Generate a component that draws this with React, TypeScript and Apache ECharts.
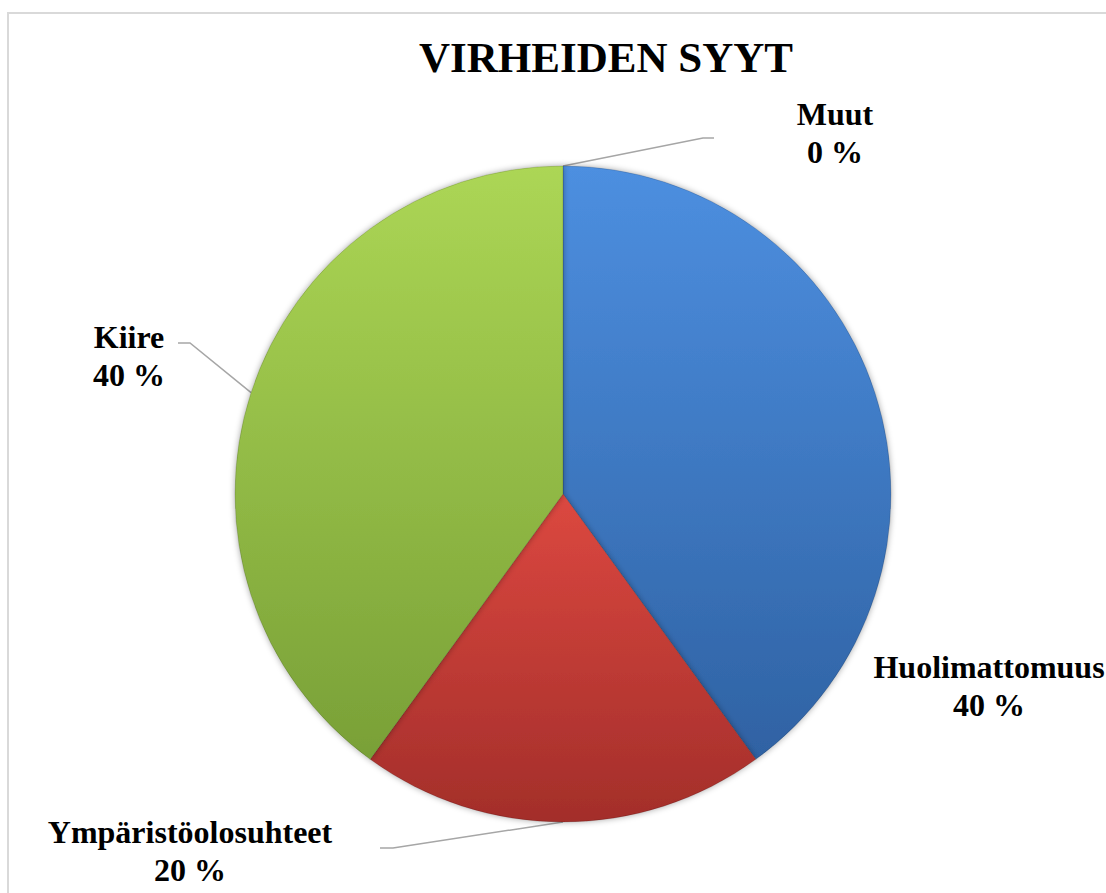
import React, { useEffect, useRef } from "react";
import * as echarts from "echarts";

const categories = ["Huolimattomuus", "Ympäristöolosuhteet", "Kiire", "Muut"];
const values = [40, 20, 40, 0];
const titleText = "VIRHEIDEN SYYT";

const gradients: [string, string][] = [
  ["#4d8fe0", "#2f62a3"],
  ["#dc4840", "#a32e2a"],
  ["#acd655", "#79a037"],
  ["#8064a2", "#5e4a7c"],
];

// label anchor: [centerX, middleY, elbowX, elbowY, endX]
const labelSpots: (number[] | null)[] = [
  [989, 686],
  [190, 851, 393, 848, 380],
  [129, 356, 190, 343, 178],
  [835, 133, 703, 138, 714],
];

export default function App() {
  const ref = useRef<HTMLDivElement>(null);
  useEffect(() => {
    if (!ref.current) return;
    const chart = echarts.init(ref.current, null, { renderer: "svg" });
    const data = categories.map((name, i) => ({
      name,
      value: values[i],
      itemStyle: {
        color: {
          type: "linear",
          x: 0,
          y: 0,
          x2: 0,
          y2: 1,
          colorStops: [
            { offset: 0, color: gradients[i][0] },
            { offset: 1, color: gradients[i][1] },
          ],
        },
      },
      labelLine: { show: i !== 0 },
    }));
    chart.setOption({
      animation: false,
      backgroundColor: "#ffffff",
      title: {
        text: titleText,
        left: 601,
        top: 31,
        textAlign: "center",
        textStyle: {
          fontFamily: "Liberation Serif",
          fontWeight: "bold",
          fontSize: 43,
          color: "#000000",
        },
      },
      graphic: [
        {
          type: "rect",
          shape: { x: 8, y: 13, width: 1110, height: 900 },
          style: { fill: "none", stroke: "#d9d9d9", lineWidth: 2 },
          silent: true,
        },
      ],
      series: [
        {
          type: "pie",
          center: [563, 494],
          radius: 328,
          startAngle: 90,
          clockwise: true,
          percentPrecision: 0,
          avoidLabelOverlap: false,
          itemStyle: {
            shadowBlur: 6,
            shadowColor: "rgba(0,0,0,0.35)",
            borderColor: "rgba(0,0,0,0.15)",
            borderWidth: 1,
          },
          label: {
            show: true,
            position: "outside",
            formatter: "{b}\n{d} %",
            fontFamily: "Liberation Serif",
            fontWeight: "bold",
            fontSize: 32,
            lineHeight: 38,
            color: "#000000",
            align: "center",
          },
          labelLine: {
            show: true,
            lineStyle: { color: "#a6a6a6", width: 1.5 },
          },
          labelLayout: (params: any) => {
            const s = labelSpots[params.dataIndex];
            if (!s) return {};
            const out: any = {
              x: s[0],
              y: s[1],
              align: "center",
              verticalAlign: "middle",
            };
            if (s.length > 2 && params.labelLinePoints) {
              const p0 = params.labelLinePoints[0];
              out.labelLinePoints = [p0, [s[2], s[3]], [s[4], s[3]]];
            }
            return out;
          },
          data,
        },
      ],
    });
    return () => chart.dispose();
  }, []);
  return (
    <div
      ref={ref}
      style={{ position: "fixed", left: 0, top: 0, width: 1106, height: 893 }}
    />
  );
}
